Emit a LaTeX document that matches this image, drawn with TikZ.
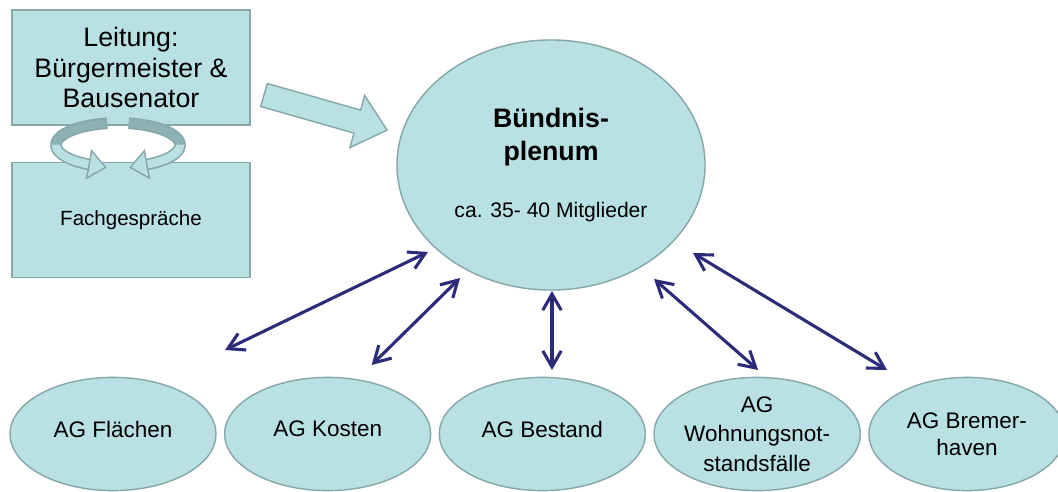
\documentclass[tikz,border=0pt]{standalone}
\usepackage{fontspec}
\setmainfont{Liberation Sans}
\usetikzlibrary{arrows.meta, positioning, calc, shapes.geometric}
\definecolor{boxfill}{RGB}{185,224,227}
\definecolor{boxline}{RGB}{134,166,168}
\definecolor{ringdark}{RGB}{141,178,180}
\definecolor{navy}{RGB}{43,43,122}
\tikzset{
    box/.style={draw=boxline, fill=boxfill, line width=1pt, align=center,
                minimum width=5.95cm, minimum height=2.875cm, inner sep=2pt},
    plen/.style={ellipse, draw=boxline, fill=boxfill, line width=1pt, align=center,
                minimum width=7.7cm, minimum height=6.25cm, inner sep=0pt},
    ag/.style={ellipse, draw=boxline, fill=boxfill, line width=1pt, align=center,
                minimum width=5.15cm, minimum height=2.83cm, inner sep=0pt,
                font=\fontsize{16}{19.5}\selectfont},
    raised/.style={text depth=#1},
    biarr/.style={{Straight Barb[length=4mm, width=4.6mm]}-{Straight Barb[length=4mm, width=4.6mm]},
                line width=2.2pt, navy},
    blockarr/.style={draw=boxline, fill=boxfill, line width=1pt, line join=miter},
    ringedge/.style={line width=0.29cm, boxline},
    ringbk/.style={line width=0.21cm, ringdark},
    ringfr/.style={line width=0.21cm, boxfill},
}

\begin{document}
\begin{tikzpicture}[x=0.025cm, y=-0.025cm]
    \useasboundingbox (0,0) rectangle (1058,492);

    % left side: Leitung + Fachgespraeche
    \node[box, font=\fontsize{19}{21.5}\selectfont] (leitung) at (131,67.5)
        {Leitung:\\Bürgermeister \&\\Bausenator};
    \node[box, font=\fontsize{14.6}{17.5}\selectfont] (fach) at (131,220) {Fachgespräche};

    % circular arrow between the two boxes
    \draw[ringedge] plot[domain=180:260, samples=25, variable=\t] ({118+62*cos(\t)}, {145+22*sin(\t)});
    \draw[ringedge] plot[domain=280:360, samples=25, variable=\t] ({118+62*cos(\t)}, {145+22*sin(\t)});
    \draw[ringbk] plot[domain=180:260, samples=25, variable=\t] ({118+62*cos(\t)}, {145+22*sin(\t)});
    \draw[ringbk] plot[domain=280:360, samples=25, variable=\t] ({118+62*cos(\t)}, {145+22*sin(\t)});
    \draw[ringedge] plot[domain=118:181, samples=25, variable=\t] ({118+62*cos(\t)}, {145+22*sin(\t)});
    \draw[ringedge] plot[domain=-1:62, samples=25, variable=\t] ({118+62*cos(\t)}, {145+22*sin(\t)});
    \draw[ringfr] plot[domain=118:181, samples=25, variable=\t] ({118+62*cos(\t)}, {145+22*sin(\t)});
    \draw[ringfr] plot[domain=-1:62, samples=25, variable=\t] ({118+62*cos(\t)}, {145+22*sin(\t)});
    \draw[blockarr] (86.4,178.2) -- (105.7,167.5) -- (91.6,150.6) -- (90.1,159) -- (88,171) -- cycle;
    \draw[blockarr] (149.6,178.2) -- (130.3,167.5) -- (144.4,150.6) -- (145.9,159) -- (148,171) -- cycle;

    % plenum
    \node[plen, font=\fontsize{19}{23.5}\selectfont] (plenum) at (551,165)
        {\textbf{Bündnis-}\\\textbf{plenum}\\[0.62cm]{\fontsize{15}{18}\selectfont ca. 35- 40 Mitglieder}};

    % block arrow Leitung -> Plenum
    \draw[blockarr] (267.3,83.5) -- (360.6,110.1) -- (364.7,95.6) -- (387.1,130.1)
        -- (349.9,147.6) -- (354,133.1) -- (260.7,106.5) -- cycle;

    % Arbeitsgruppen
    \node[ag, raised=0.25cm] (flaechen) at (113,434) {AG Flächen};
    \node[ag, raised=0.25cm, right=0.18cm of flaechen] (kosten) {AG Kosten};
    \node[ag, raised=0.25cm, right=0.18cm of kosten] (bestand) {AG Bestand};
    \node[ag, font=\fontsize{16}{21}\selectfont, right=0.18cm of bestand] (notstand) {AG\\Wohnungsnot-\\standsfälle};
    \node[ag, right=0.18cm of notstand, minimum width=4.9cm] (bremerhaven) {AG Bremer-\\haven};

    \draw[biarr] ($(plenum)+(-123,87)$) -- ($(flaechen)+(112,-84)$);
    \draw[biarr] ($(plenum)+(-91,113)$) -- ($(kosten)+(44,-69)$);
    \draw[biarr] ($(plenum)+(1,126)$) -- ($(plenum)+(1,205)$);
    \draw[biarr] ($(plenum)+(103,114)$) -- ($(notstand)+(1,-64)$);
    \draw[biarr] ($(plenum)+(142,88)$) -- ($(bremerhaven)+(-80,-64)$);
\end{tikzpicture}
\end{document}
